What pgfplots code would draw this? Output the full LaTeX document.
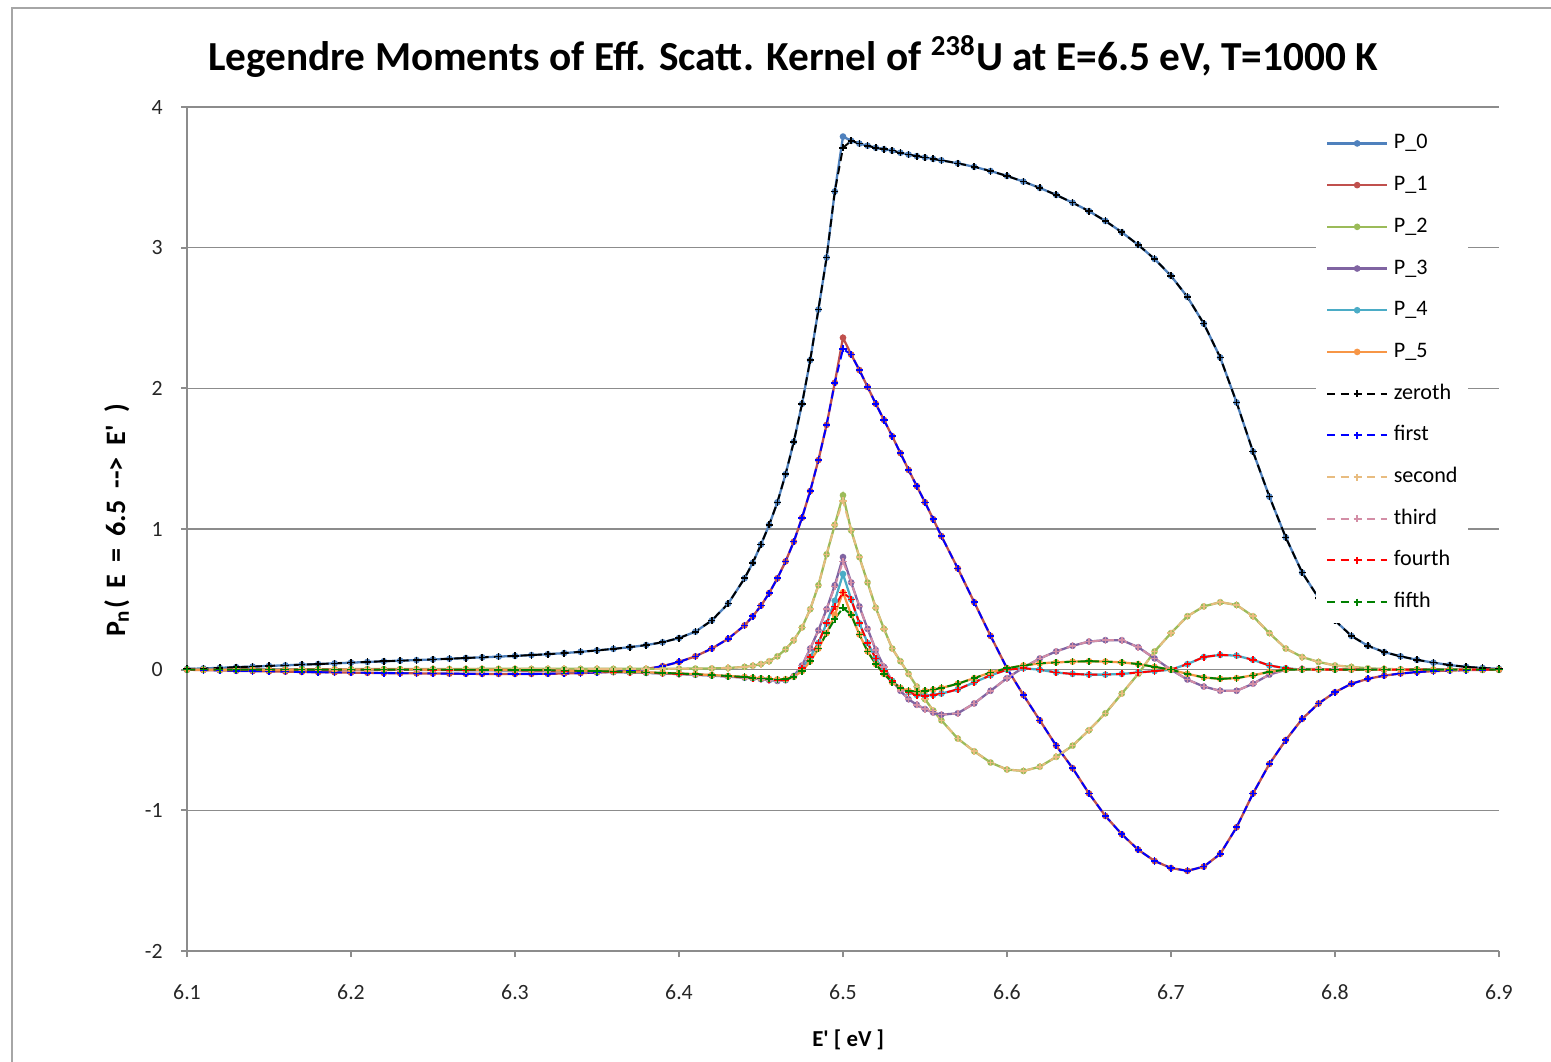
\documentclass[border=0pt]{standalone}
\usepackage{fontspec}
\setmainfont{Carlito}
\usepackage{pgfplots}
\usepackage{pgfplotstable}
\pgfplotsset{compat=1.18}
\definecolor{cP0}{HTML}{4F81BD}
\definecolor{cP1}{HTML}{C0504D}
\definecolor{cP2}{HTML}{9BBB59}
\definecolor{cP3}{HTML}{8064A2}
\definecolor{cP4}{HTML}{4BACC6}
\definecolor{cP5}{HTML}{F79646}
\definecolor{cZ0}{HTML}{000000}
\definecolor{cZ1}{HTML}{0000FF}
\definecolor{cZ2}{HTML}{E8BC80}
\definecolor{cZ3}{HTML}{D38EA6}
\definecolor{cZ4}{HTML}{FF0000}
\definecolor{cZ5}{HTML}{008000}
\definecolor{gridgray}{HTML}{8C8C8C}
\definecolor{framegray}{HTML}{A6A6A6}
\pgfplotstableread{
x p0 p1 p2 p3 p4 p5 z0 z1 z2 z3 z4 z5
6.10 0.005 0.000 0.000 0.000 0.000 0.000 0.005 0.000 0.000 0.000 0.000 0.000
6.11 0.009 -0.003 0.001 0.000 0.000 0.000 0.009 -0.003 0.001 0.000 0.000 0.000
6.12 0.013 -0.005 0.001 0.000 0.000 0.000 0.013 -0.005 0.001 0.000 0.000 0.000
6.13 0.018 -0.008 0.001 0.001 0.000 0.000 0.018 -0.008 0.001 0.001 0.000 0.000
6.14 0.022 -0.010 0.002 0.001 0.000 0.000 0.022 -0.010 0.002 0.001 0.000 0.000
6.15 0.027 -0.012 0.002 0.001 0.001 0.000 0.027 -0.012 0.002 0.001 0.001 0.000
6.16 0.031 -0.014 0.002 0.001 0.001 0.000 0.031 -0.014 0.002 0.001 0.001 0.000
6.17 0.036 -0.016 0.003 0.001 0.001 0.001 0.036 -0.016 0.003 0.001 0.001 0.001
6.18 0.040 -0.018 0.003 0.001 0.001 0.001 0.040 -0.018 0.003 0.001 0.001 0.001
6.19 0.045 -0.019 0.003 0.001 0.001 0.001 0.045 -0.019 0.003 0.001 0.001 0.001
6.20 0.050 -0.021 0.004 0.000 0.001 0.001 0.050 -0.021 0.004 0.000 0.001 0.001
6.21 0.055 -0.022 0.004 0.000 0.001 0.001 0.055 -0.022 0.004 0.000 0.001 0.001
6.22 0.060 -0.024 0.004 0.000 0.000 0.001 0.060 -0.024 0.004 0.000 0.000 0.001
6.23 0.064 -0.025 0.004 -0.001 0.000 0.001 0.064 -0.025 0.004 -0.001 0.000 0.001
6.24 0.068 -0.026 0.005 -0.001 0.000 0.001 0.068 -0.026 0.005 -0.001 0.000 0.001
6.25 0.073 -0.027 0.005 -0.002 -0.001 0.000 0.073 -0.027 0.005 -0.002 -0.001 0.000
6.26 0.078 -0.028 0.005 -0.002 -0.001 0.000 0.078 -0.028 0.005 -0.002 -0.001 0.000
6.27 0.083 -0.029 0.005 -0.003 -0.002 0.000 0.083 -0.029 0.005 -0.003 -0.002 0.000
6.28 0.088 -0.030 0.006 -0.004 -0.002 -0.001 0.088 -0.030 0.006 -0.004 -0.002 -0.001
6.29 0.093 -0.030 0.006 -0.005 -0.003 -0.001 0.093 -0.030 0.006 -0.005 -0.003 -0.001
6.30 0.098 -0.030 0.006 -0.006 -0.004 -0.002 0.098 -0.030 0.006 -0.006 -0.004 -0.002
6.31 0.104 -0.030 0.006 -0.007 -0.005 -0.003 0.104 -0.030 0.006 -0.007 -0.005 -0.003
6.32 0.110 -0.029 0.006 -0.008 -0.006 -0.004 0.110 -0.029 0.006 -0.008 -0.006 -0.004
6.33 0.118 -0.027 0.006 -0.010 -0.008 -0.006 0.118 -0.027 0.006 -0.010 -0.008 -0.006
6.34 0.127 -0.024 0.006 -0.012 -0.010 -0.008 0.127 -0.024 0.006 -0.012 -0.010 -0.008
6.35 0.137 -0.020 0.006 -0.014 -0.012 -0.010 0.137 -0.020 0.006 -0.014 -0.012 -0.010
6.36 0.148 -0.015 0.006 -0.017 -0.015 -0.013 0.148 -0.015 0.006 -0.017 -0.015 -0.013
6.37 0.160 -0.007 0.006 -0.020 -0.018 -0.016 0.160 -0.007 0.006 -0.020 -0.018 -0.016
6.38 0.175 0.005 0.006 -0.023 -0.021 -0.019 0.175 0.005 0.006 -0.023 -0.021 -0.019
6.39 0.195 0.025 0.006 -0.027 -0.025 -0.023 0.195 0.025 0.006 -0.027 -0.025 -0.023
6.40 0.225 0.055 0.007 -0.031 -0.029 -0.027 0.225 0.055 0.007 -0.031 -0.029 -0.027
6.41 0.270 0.095 0.008 -0.036 -0.034 -0.032 0.270 0.095 0.008 -0.036 -0.034 -0.032
6.42 0.350 0.150 0.009 -0.042 -0.040 -0.038 0.350 0.150 0.009 -0.042 -0.040 -0.038
6.43 0.470 0.220 0.012 -0.049 -0.047 -0.045 0.470 0.220 0.012 -0.049 -0.047 -0.045
6.44 0.650 0.315 0.020 -0.057 -0.054 -0.052 0.650 0.315 0.020 -0.057 -0.054 -0.052
6.445 0.760 0.380 0.028 -0.062 -0.059 -0.057 0.760 0.380 0.028 -0.062 -0.059 -0.057
6.45 0.890 0.455 0.040 -0.068 -0.064 -0.062 0.890 0.455 0.040 -0.068 -0.064 -0.062
6.455 1.030 0.545 0.060 -0.074 -0.069 -0.066 1.030 0.545 0.060 -0.074 -0.069 -0.066
6.46 1.190 0.650 0.095 -0.080 -0.073 -0.069 1.190 0.650 0.095 -0.080 -0.073 -0.069
6.465 1.390 0.770 0.145 -0.075 -0.072 -0.068 1.390 0.770 0.145 -0.075 -0.072 -0.068
6.47 1.620 0.910 0.210 -0.045 -0.050 -0.050 1.620 0.910 0.210 -0.045 -0.050 -0.050
6.475 1.890 1.080 0.300 0.030 0.010 -0.010 1.890 1.080 0.300 0.030 0.010 -0.010
6.48 2.200 1.270 0.430 0.150 0.090 0.060 2.200 1.270 0.430 0.150 0.090 0.060
6.485 2.560 1.490 0.600 0.280 0.190 0.150 2.560 1.490 0.600 0.280 0.190 0.150
6.49 2.930 1.740 0.820 0.430 0.330 0.260 2.930 1.740 0.820 0.430 0.330 0.260
6.495 3.400 2.040 1.030 0.600 0.490 0.390 3.400 2.040 1.030 0.590 0.450 0.360
6.50 3.790 2.360 1.240 0.800 0.680 0.550 3.710 2.280 1.200 0.770 0.550 0.440
6.505 3.760 2.240 0.990 0.620 0.500 0.390 3.760 2.240 0.990 0.620 0.500 0.390
6.51 3.740 2.130 0.800 0.450 0.330 0.250 3.740 2.130 0.800 0.450 0.330 0.250
6.515 3.725 2.010 0.620 0.290 0.190 0.130 3.725 2.010 0.620 0.290 0.190 0.130
6.52 3.710 1.890 0.440 0.140 0.080 0.040 3.710 1.890 0.440 0.140 0.080 0.040
6.525 3.700 1.775 0.290 0.020 -0.010 -0.030 3.700 1.775 0.290 0.020 -0.010 -0.030
6.53 3.690 1.660 0.150 -0.080 -0.080 -0.090 3.690 1.660 0.150 -0.080 -0.080 -0.090
6.535 3.675 1.540 0.060 -0.150 -0.130 -0.130 3.675 1.540 0.060 -0.150 -0.130 -0.130
6.54 3.662 1.420 -0.030 -0.210 -0.160 -0.150 3.662 1.420 -0.030 -0.210 -0.160 -0.150
6.545 3.651 1.305 -0.120 -0.250 -0.180 -0.155 3.651 1.305 -0.120 -0.250 -0.180 -0.155
6.55 3.641 1.190 -0.210 -0.280 -0.185 -0.150 3.641 1.190 -0.210 -0.280 -0.185 -0.150
6.555 3.631 1.070 -0.290 -0.305 -0.180 -0.142 3.631 1.070 -0.290 -0.305 -0.180 -0.142
6.56 3.621 0.950 -0.360 -0.320 -0.170 -0.130 3.621 0.950 -0.360 -0.320 -0.170 -0.130
6.57 3.600 0.720 -0.490 -0.310 -0.140 -0.100 3.600 0.720 -0.490 -0.310 -0.140 -0.100
6.58 3.575 0.480 -0.580 -0.240 -0.090 -0.060 3.575 0.480 -0.580 -0.240 -0.090 -0.060
6.59 3.545 0.240 -0.660 -0.150 -0.040 -0.020 3.545 0.240 -0.660 -0.150 -0.040 -0.020
6.60 3.510 0.010 -0.710 -0.060 0.000 0.010 3.510 0.010 -0.710 -0.060 0.000 0.010
6.61 3.470 -0.180 -0.720 0.015 0.010 0.030 3.470 -0.180 -0.720 0.015 0.010 0.030
6.62 3.425 -0.360 -0.690 0.080 0.000 0.045 3.425 -0.360 -0.690 0.080 0.000 0.045
6.63 3.375 -0.540 -0.620 0.130 -0.020 0.052 3.375 -0.540 -0.620 0.130 -0.020 0.052
6.64 3.320 -0.700 -0.540 0.170 -0.030 0.057 3.320 -0.700 -0.540 0.170 -0.030 0.057
6.65 3.260 -0.880 -0.430 0.200 -0.035 0.060 3.260 -0.880 -0.430 0.200 -0.035 0.060
6.66 3.190 -1.040 -0.310 0.210 -0.035 0.058 3.190 -1.040 -0.310 0.210 -0.035 0.058
6.67 3.110 -1.170 -0.170 0.210 -0.030 0.052 3.110 -1.170 -0.170 0.210 -0.030 0.052
6.68 3.020 -1.280 -0.030 0.160 -0.020 0.040 3.020 -1.280 -0.030 0.160 -0.020 0.040
6.69 2.920 -1.360 0.130 0.080 -0.010 0.020 2.920 -1.360 0.130 0.080 -0.010 0.020
6.70 2.800 -1.410 0.260 0.000 0.000 0.000 2.800 -1.410 0.260 0.000 0.000 0.000
6.71 2.650 -1.430 0.380 -0.070 0.040 -0.030 2.650 -1.430 0.380 -0.070 0.040 -0.030
6.72 2.460 -1.400 0.450 -0.120 0.090 -0.055 2.460 -1.400 0.450 -0.120 0.090 -0.055
6.73 2.220 -1.310 0.480 -0.150 0.105 -0.065 2.220 -1.310 0.480 -0.150 0.105 -0.065
6.74 1.900 -1.120 0.460 -0.150 0.100 -0.060 1.900 -1.120 0.460 -0.150 0.100 -0.060
6.75 1.550 -0.880 0.380 -0.100 0.070 -0.040 1.550 -0.880 0.380 -0.100 0.070 -0.040
6.76 1.230 -0.670 0.260 -0.035 0.030 -0.015 1.230 -0.670 0.260 -0.035 0.030 -0.015
6.77 0.940 -0.500 0.150 0.000 0.010 0.000 0.940 -0.500 0.150 0.000 0.010 0.000
6.78 0.690 -0.350 0.090 0.005 0.000 0.002 0.690 -0.350 0.090 0.005 0.000 0.002
6.79 0.510 -0.240 0.055 0.004 0.000 0.002 0.510 -0.240 0.055 0.004 0.000 0.002
6.80 0.350 -0.160 0.030 0.003 0.000 0.001 0.350 -0.160 0.030 0.003 0.000 0.001
6.81 0.240 -0.100 0.020 0.002 0.000 0.001 0.240 -0.100 0.020 0.002 0.000 0.001
6.82 0.170 -0.065 0.010 0.001 0.000 0.000 0.170 -0.065 0.010 0.001 0.000 0.000
6.83 0.125 -0.042 0.005 0.000 0.000 0.000 0.125 -0.042 0.005 0.000 0.000 0.000
6.84 0.095 -0.027 0.003 0.000 0.000 0.000 0.095 -0.027 0.003 0.000 0.000 0.000
6.85 0.070 -0.017 0.002 0.000 0.000 0.000 0.070 -0.017 0.002 0.000 0.000 0.000
6.86 0.050 -0.010 0.001 0.000 0.000 0.000 0.050 -0.010 0.001 0.000 0.000 0.000
6.87 0.033 -0.006 0.001 0.000 0.000 0.000 0.033 -0.006 0.001 0.000 0.000 0.000
6.88 0.020 -0.003 0.000 0.000 0.000 0.000 0.020 -0.003 0.000 0.000 0.000 0.000
6.89 0.012 -0.001 0.000 0.000 0.000 0.000 0.012 -0.001 0.000 0.000 0.000 0.000
6.90 0.006 0.000 0.000 0.000 0.000 0.000 0.006 0.000 0.000 0.000 0.000 0.000
}\data
\pgfplotsset{
  psolid/.style={color=#1, line width=0.65pt, mark=*, mark size=0.6pt, mark options={fill=#1, draw=#1}},
  pdash/.style={color=#1, line width=0.55pt, dash pattern=on 2.3pt off 1.5pt, mark=+, mark size=1.0pt, mark options={solid, line width=0.45pt}},
}
\newcommand{\ys}{\hspace{1.2mm}}
\begin{document}
\begin{tikzpicture}
\useasboundingbox (-18.7mm,-11.0mm) rectangle (136.4mm,95.1mm);
\begin{axis}[
  at={(0,0)}, anchor=south west,
  scale only axis, width=131.2mm, height=84.4mm,
  xmin=6.1, xmax=6.9, ymin=-2, ymax=4,
  xtick={6.1,6.2,6.3,6.4,6.5,6.6,6.7,6.8,6.9},
  xticklabels={6.1,6.2,6.3,6.4,6.5,6.6,6.7,6.8,6.9},
  ytick={-2,-1,0,1,2,3,4},
  yticklabels={-2,-1,0,1,2,3,4},
  axis x line*=bottom, axis y line*=left,
  axis line style={draw=gridgray, line width=0.5pt},
  tick align=outside, major tick length=0.6mm,
  tick style={draw=gridgray, line width=0.5pt},
  ymajorgrids, grid style={draw=gridgray, line width=0.45pt},
  ticklabel style={font=\fontsize{6.2}{7}\selectfont, text=black!85},
  yticklabel style={xshift=-0.6mm},
  xticklabel style={yshift=-1.5mm},
  title={Legendre Moments of Eff. Scatt. Kernel of \textsuperscript{238}U at E=6.5 eV, T=1000 K},
  title style={at={(0.462,1)}, anchor=base, yshift=1.5mm, font=\fontsize{11.75}{14}\bfseries\selectfont},
  xlabel={E\textquotesingle\ [ eV ]},
  xlabel style={at={(0.504,0)}, anchor=base, yshift=-9.5mm, font=\fontsize{6.5}{8}\bfseries\selectfont},
  ylabel={P\textsubscript{n}(\ys E\ys =\ys 6.5\ys -{}-{}>\ys E\textquotesingle\ys )},
  ylabel style={at={(-0.0534,0.510)}, anchor=center, font=\fontsize{8}{9}\bfseries\selectfont},
  legend cell align=left,
  legend image code/.code={\draw[mark repeat=2,mark phase=2] plot coordinates {(0mm,0mm) (3mm,0mm) (6mm,0mm)};},
  legend style={
    at={(0.860,0.982)}, anchor=north west,
    draw=none, fill=white,
    font=\fontsize{6.3}{7}\selectfont,
    inner xsep=1mm, inner ysep=1mm,
    row sep=2.07mm,
    nodes={inner sep=0pt, text height=1.6mm, text depth=0.5mm},
    /tikz/every odd column/.append style={column sep=0.55mm},
  },
]
\addplot[psolid=cP0] table[x=x, y=p0] {\data}; \addlegendentry{P\_0}
\addplot[psolid=cP1] table[x=x, y=p1] {\data}; \addlegendentry{P\_1}
\addplot[psolid=cP2] table[x=x, y=p2] {\data}; \addlegendentry{P\_2}
\addplot[psolid=cP3] table[x=x, y=p3] {\data}; \addlegendentry{P\_3}
\addplot[psolid=cP4] table[x=x, y=p4] {\data}; \addlegendentry{P\_4}
\addplot[psolid=cP5] table[x=x, y=p5] {\data}; \addlegendentry{P\_5}
\addplot[pdash=cZ0] table[x=x, y=z0] {\data}; \addlegendentry{zeroth}
\addplot[pdash=cZ1] table[x=x, y=z1] {\data}; \addlegendentry{first}
\addplot[pdash=cZ2] table[x=x, y=z2] {\data}; \addlegendentry{second}
\addplot[pdash=cZ3] table[x=x, y=z3] {\data}; \addlegendentry{third}
\addplot[pdash=cZ4] table[x=x, y=z4] {\data}; \addlegendentry{fourth}
\addplot[pdash=cZ5] table[x=x, y=z5] {\data}; \addlegendentry{fifth}
\end{axis}
\draw[framegray, line width=0.2mm] (-17.5mm,-12mm) -- (-17.5mm,94.3mm) -- (137mm,94.3mm);
\end{tikzpicture}
\end{document}
